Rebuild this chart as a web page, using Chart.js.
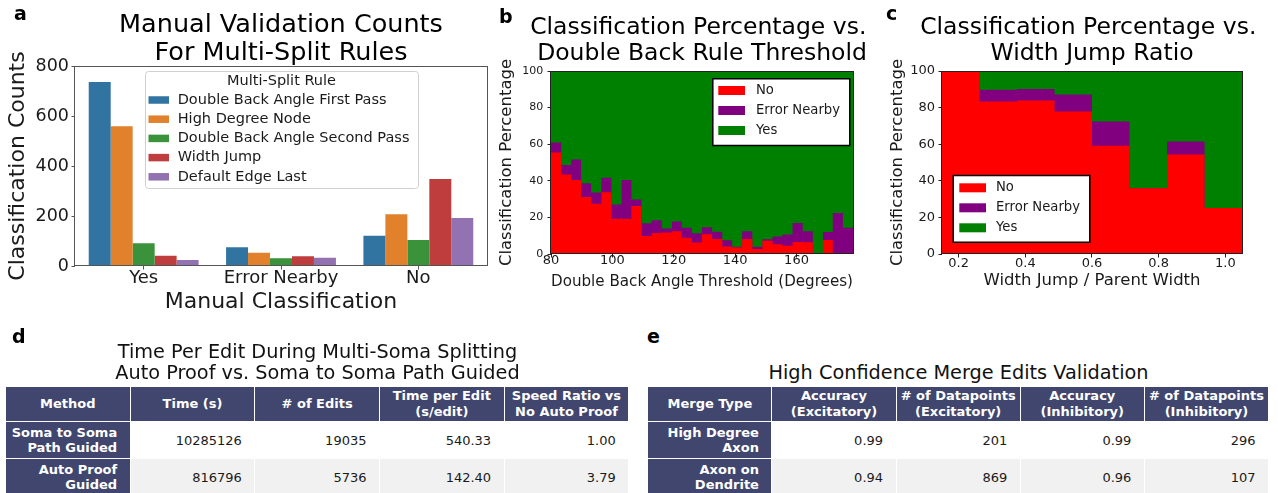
<!DOCTYPE html>
<html>
<head>
<meta charset="utf-8">
<title>Multi-split rule validation</title>
<script src="https://cdn.jsdelivr.net/npm/chart.js@4.4.1/dist/chart.umd.min.js"></script>
<style>
  html, body { margin: 0; padding: 0; background: #fff; }
  body { width: 1278px; height: 493px; position: relative; overflow: hidden; font-family: 'DejaVu Sans', sans-serif; }
  canvas { position: absolute; top: 0; }
  .panel-tag { position: absolute; font: bold 19px/19px 'DejaVu Sans', sans-serif; color: #000; }
  .table-title { position: absolute; font: 19.3px/20.7px 'DejaVu Sans', sans-serif; color: #111; text-align: center; white-space: pre; }
  .cell { position: absolute; box-sizing: border-box; display: flex; align-items: center; font-size: 13px; line-height: 15.6px; white-space: pre; border-right: 1px solid #fff; border-bottom: 1px solid #fff; }
  .cell.head { background: #40466e; color: #fff; font-weight: bold; justify-content: center; text-align: center; }
  .cell.rowhead { background: #40466e; color: #fff; font-weight: bold; justify-content: flex-end; text-align: right; padding-right: 12.5px; }
  .cell.num { color: #1a1a1a; justify-content: flex-end; text-align: right; padding-right: 12.5px; }
</style>
</head>
<body>
<canvas id="countsChart" width="500" height="320" style="left:0px;width:500px;height:320px"></canvas>
<canvas id="angleChart" width="375" height="300" style="left:495px;width:375px;height:300px"></canvas>
<canvas id="widthChart" width="408" height="300" style="left:870px;width:408px;height:300px"></canvas>

<div class="panel-tag" style="left:14px;top:4px">a</div>
<div class="panel-tag" style="left:499px;top:7px">b</div>
<div class="panel-tag" style="left:886px;top:4px">c</div>
<div class="panel-tag" style="left:12px;top:327px">d</div>
<div class="panel-tag" style="left:647px;top:327px">e</div>

<div id="editTitle" class="table-title" style="left:6px;width:623px;top:342.3px"></div>
<div id="mergeTitle" class="table-title" style="left:648px;width:621px;top:363px"></div>
<div id="editTable"></div>
<div id="mergeTable"></div>

<script>
// ---------- Panel a: manual validation counts per multi-split rule ----------
const classCategories = ['Yes', 'Error Nearby', 'No'];
const ruleNames = ['Double Back Angle First Pass', 'High Degree Node', 'Double Back Angle Second Pass', 'Width Jump', 'Default Edge Last'];
const doubleBackFirstPass  = [736, 75, 121];
const highDegreeNode       = [559, 53, 207];
const doubleBackSecondPass = [91, 31, 104];
const widthJump            = [41, 39, 348];
const defaultEdgeLast      = [24, 33, 192];
const countTicks = [0, 200, 400, 600, 800];
const countsTitle = ['Manual Validation Counts', 'For Multi-Split Rules'];
const countsLegendTitle = 'Multi-Split Rule';

// ---------- Panel b: classification share vs. double back threshold ----------
const thresholdEdges = [80.0, 83.3, 86.6, 89.8, 93.1, 96.4, 99.7, 103.0, 106.2, 109.5,
  112.8, 116.1, 119.4, 122.6, 125.9, 129.2, 132.5, 135.8, 139.0, 142.3,
  145.6, 148.9, 152.2, 155.4, 158.7, 162.0, 165.3, 168.6, 171.8, 175.1, 178.4];
const angleNoPct = [55.4, 43.4, 40.4, 31.1, 27.5, 33.7, 19.2, 19.2, 26.2, 9.8,
  11.5, 11.8, 12.5, 8.9, 6.3, 10.8, 8.2, 4.1, 3.5, 8.2,
  2.7, 7.3, 5.3, 4.5, 6.6, 6.4, 0, 7.6, 0, 0];
const angleErrorNearbyPct = [5.5, 5.3, 11.2, 7.6, 6.1, 7.9, 7.8, 21.3, 3.6, 7.0,
  7.0, 2.2, 5.3, 5.5, 5.0, 3.8, 4.0, 3.4, 0.5, 4.3,
  1.3, 0.7, 4.2, 6.2, 10.3, 6.1, 0, 4.4, 22.4, 14.4];
const angleYesPct = [39.1, 51.3, 48.4, 61.3, 66.4, 58.4, 73.0, 59.5, 70.2, 83.2,
  81.5, 86.0, 82.2, 85.6, 88.7, 85.4, 87.8, 92.5, 96.0, 87.5,
  96.0, 92.0, 90.5, 89.3, 83.1, 87.5, 100, 88.0, 77.6, 85.6];
const thresholdTicks = [80, 100, 120, 140, 160];
const angleTitle = ['Classification Percentage vs. ', 'Double Back Rule Threshold'];

// ---------- Panel c: classification share vs. width jump ratio ----------
const ratioEdges = [0.15, 0.2625, 0.375, 0.4875, 0.6, 0.7125, 0.825, 0.9375, 1.05];
const ratioNoPct = [100, 83.4, 83.9, 77.9, 59.1, 35.9, 54.4, 25.2];
const ratioErrorNearbyPct = [0, 6.4, 6.2, 9.3, 13.3, 0, 7.1, 0];
const ratioYesPct = [0, 10.2, 9.9, 12.8, 27.6, 64.1, 38.5, 74.8];
const ratioTicks = [0.2, 0.4, 0.6, 0.8, 1.0];
const ratioTickLabels = ['0.2', '0.4', '0.6', '0.8', '1.0'];
const ratioTitle = ['Classification Percentage vs. ', 'Width Jump Ratio'];

const pctTicks = [0, 20, 40, 60, 80, 100];
const outcomeNames = ['No', 'Error Nearby', 'Yes'];

// ---------- Panel d: time per edit table ----------
const editTitleLines = ['Time Per Edit During Multi-Soma Splitting', 'Auto Proof vs. Soma to Soma Path Guided'];
const editHeaders = ['Method', 'Time (s)', '# of Edits', 'Time per Edit\n(s/edit)', 'Speed Ratio vs\nNo Auto Proof'];
const editMethods = ['Soma to Soma\nPath Guided', 'Auto Proof\nGuided'];
const editTimes = [10285126, 816796];
const editCounts = [19035, 5736];
const editTimePerEdit = [540.33, 142.40];
const editSpeedRatio = [1.00, 3.79];

// ---------- Panel e: merge edit validation table ----------
const mergeTitleText = 'High Confidence Merge Edits Validation';
const mergeHeaders = ['Merge Type', 'Accuracy\n(Excitatory)', '# of Datapoints\n(Excitatory)', 'Accuracy\n(Inhibitory)', '# of Datapoints\n(Inhibitory)'];
const mergeTypes = ['High Degree\nAxon', 'Axon on\nDendrite'];
const excitatoryAccuracy = [0.99, 0.94];
const excitatoryCount = [201, 869];
const inhibitoryAccuracy = [0.99, 0.96];
const inhibitoryCount = [296, 107];

// ---------- shared drawing helpers ----------
const FONT = "'DejaVu Sans', sans-serif";
const INK = '#1a1a1a';
Chart.defaults.font.family = FONT;
Chart.defaults.color = INK;

// Multi-line title centred over the plotting area
function titlePlugin(lines, size, baselines) {
  return {
    id: 'axesTitle',
    afterDraw(chart) {
      const { ctx, chartArea } = chart;
      const cx = (chartArea.left + chartArea.right) / 2;
      ctx.save();
      ctx.font = size + 'px ' + FONT;
      ctx.fillStyle = '#000';
      ctx.textAlign = 'center';
      ctx.textBaseline = 'alphabetic';
      lines.forEach((t, i) => ctx.fillText(t, cx, baselines[i]));
      ctx.restore();
    }
  };
}

// Rectangle round the plotting area
function framePlugin(color) {
  return {
    id: 'axesFrame',
    afterDatasetsDraw(chart) {
      const { ctx, chartArea: a } = chart;
      ctx.save();
      ctx.strokeStyle = color;
      ctx.lineWidth = 1;
      ctx.strokeRect(Math.round(a.left) - 0.5, Math.round(a.top) + 0.5,
        Math.round(a.right) - Math.round(a.left) + 1, Math.round(a.bottom) - Math.round(a.top) - 1);
      ctx.restore();
    }
  };
}

// Boxed legend listing the datasets, placed inside the plot
function legendPlugin(o) {
  return {
    id: 'boxLegend',
    afterDatasetsDraw(chart) {
      const ctx = chart.ctx;
      const [x, y, w, h] = o.box;
      ctx.save();
      ctx.beginPath();
      if (o.radius) ctx.roundRect(x + 0.5, y + 0.5, w, h, o.radius);
      else ctx.rect(x + 0.5, y + 0.5, w, h);
      ctx.fillStyle = o.fill;
      ctx.fill();
      ctx.lineWidth = o.lineWidth;
      ctx.strokeStyle = o.stroke;
      ctx.stroke();
      ctx.font = o.fontSize + 'px ' + FONT;
      ctx.textBaseline = 'middle';
      if (o.title) {
        ctx.fillStyle = INK;
        ctx.textAlign = 'center';
        ctx.fillText(o.title, x + w / 2, o.titleY);
      }
      ctx.textAlign = 'left';
      chart.data.datasets.forEach((ds, i) => {
        const cy = o.firstRowY + i * o.rowGap;
        ctx.fillStyle = ds.backgroundColor;
        ctx.fillRect(o.patchX, cy - o.patchH / 2, o.patchW, o.patchH);
        ctx.fillStyle = INK;
        ctx.fillText(ds.label, o.textX, cy);
      });
      ctx.restore();
    }
  };
}

function fixedTicks(values) {
  return scale => { scale.ticks = values.map(v => ({ value: v })); };
}

// One point per bin edge; the closing edge repeats the last bin so the step spans it
function stepSeries(edges, values) {
  return edges.map((x, i) => ({ x, y: values[Math.min(i, values.length - 1)] }));
}

function tickGrid(color) {
  return { display: true, drawOnChartArea: false, drawTicks: true, tickLength: 3.5, color, lineWidth: 1 };
}

// ---------- Panel a ----------
const ruleCounts = [doubleBackFirstPass, highDegreeNode, doubleBackSecondPass, widthJump, defaultEdgeLast];
const ruleColors = ['#3274a1', '#e1812c', '#3a923a', '#c03d3e', '#9372b2'];

new Chart(document.getElementById('countsChart'), {
  type: 'bar',
  data: {
    labels: classCategories,
    datasets: ruleNames.map((name, i) => ({
      label: name,
      data: ruleCounts[i],
      backgroundColor: ruleColors[i],
      borderWidth: 0,
      barPercentage: 1,
      categoryPercentage: 0.8
    }))
  },
  options: {
    responsive: false,
    animation: false,
    events: [],
    layout: { padding: { top: 66, right: 13, bottom: 0, left: 0 } },
    plugins: { legend: { display: false }, tooltip: { enabled: false } },
    scales: {
      x: {
        grid: Object.assign(tickGrid('#555'), { offset: false }),
        border: { display: false },
        ticks: { font: { size: 18, lineHeight: 1 }, padding: -0.5, color: INK },
        title: { display: true, text: 'Manual Classification', font: { size: 22 }, color: INK, padding: { top: 0, bottom: 5 } },
        afterFit: s => { s.height = 54; }
      },
      y: {
        min: countTicks[0],
        max: countTicks[countTicks.length - 1],
        afterBuildTicks: fixedTicks(countTicks),
        grid: tickGrid('#555'),
        border: { display: false },
        ticks: { font: { size: 17.5 }, padding: 2.5, color: INK },
        title: { display: true, text: 'Classification Counts', font: { size: 22 }, color: INK, padding: { top: 5, bottom: 0 } },
        afterFit: s => { s.width = 75; }
      }
    }
  },
  plugins: [
    titlePlugin(countsTitle, 25.5, [31.7, 60]),
    framePlugin('#555'),
    legendPlugin({
      box: [145, 71, 273, 117], radius: 3, fill: 'rgba(255,255,255,0.85)', stroke: '#d0d0d0', lineWidth: 1,
      title: countsLegendTitle, titleY: 81, fontSize: 14.5,
      firstRowY: 100, rowGap: 19.2, patchX: 148.5, patchW: 20.5, patchH: 7.5, textX: 177.7
    })
  ]
});

// ---------- Panels b and c: stacked step areas ----------
const outcomeColors = ['#ff0000', '#800080', '#008000'];

function outcomeChart(canvasId, edges, series, opts) {
  return new Chart(document.getElementById(canvasId), {
    type: 'line',
    data: {
      datasets: outcomeNames.map((name, i) => ({
        label: name,
        data: stepSeries(edges, series[i]),
        backgroundColor: outcomeColors[i],
        borderColor: outcomeColors[i],
        borderWidth: 0,
        pointRadius: 0,
        stepped: true,
        fill: 'origin'
      }))
    },
    options: {
      responsive: false,
      animation: false,
      events: [],
      layout: { padding: { top: 71, right: opts.rightPad, bottom: 0, left: 0 } },
      plugins: { legend: { display: false }, tooltip: { enabled: false } },
      scales: {
        x: {
          type: 'linear',
          min: edges[0],
          max: edges[edges.length - 1],
          afterBuildTicks: fixedTicks(opts.xTicks),
          grid: tickGrid('#222'),
          border: { display: false },
          ticks: { font: { size: 13, lineHeight: 1 }, padding: opts.xTickPad, color: INK,
                   callback: opts.xLabel },
          title: { display: true, text: opts.xTitle, font: { size: 16.5 }, color: INK, padding: { top: 0, bottom: opts.xTitlePad } },
          afterFit: s => { s.height = 46; }
        },
        y: {
          stacked: true,
          min: 0,
          max: 100,
          afterBuildTicks: fixedTicks(pctTicks),
          grid: tickGrid('#222'),
          border: { display: false },
          ticks: { font: { size: opts.yTickSize }, padding: opts.yTickPad, color: INK },
          title: { display: true, text: 'Classification Percentage', font: { size: 16.5 }, color: INK, padding: { top: opts.yTitlePad, bottom: 0 } },
          afterFit: s => { s.width = opts.yWidth; }
        }
      }
    },
    plugins: [
      titlePlugin(opts.title, 23.5, [34, 60]),
      framePlugin('#222'),
      legendPlugin(Object.assign({
        fill: '#fff', stroke: '#000', lineWidth: 1.5, fontSize: 13.2,
        rowGap: 20, patchW: 26.7, patchH: 9
      }, opts.legend))
    ]
  });
}

outcomeChart('angleChart', thresholdEdges, [angleNoPct, angleErrorNearbyPct, angleYesPct], {
  rightPad: 17, yWidth: 56, yTickSize: 11, yTickPad: 4.2, yTitlePad: 2,
  xTicks: thresholdTicks, xLabel: v => String(v), xTickPad: -3, xTitlePad: 8.5,
  xTitle: 'Double Back Angle Threshold (Degrees)',
  title: angleTitle,
  legend: { box: [217.3, 78.3, 137, 66.7], firstRowY: 90.5, patchX: 223.3, textX: 261 }
});

outcomeChart('widthChart', ratioEdges, [ratioNoPct, ratioErrorNearbyPct, ratioYesPct], {
  rightPad: 36, yWidth: 72, yTickSize: 13, yTickPad: 3.5, yTitlePad: 18,
  xTicks: ratioTicks, xLabel: (v, i) => ratioTickLabels[i], xTickPad: 0, xTitlePad: 9,
  xTitle: 'Width Jump / Parent Width',
  title: ratioTitle,
  legend: { box: [82.7, 175, 136.6, 66.7], firstRowY: 187.8, patchX: 89.3, textX: 126 }
});

// ---------- Panels d and e: tables ----------
function buildTable(host, x0, width, headers, rowLabels, columns) {
  const cw = width / headers.length;
  const rowTops = [386.7, 422.3, 459.3];
  const rowHeights = [35.6, 37, 37];
  const rowFills = ['#ffffff', '#f1f1f2'];
  const addCell = (cls, text, col, row, fill) => {
    const d = document.createElement('div');
    d.className = 'cell ' + cls;
    d.textContent = text;
    d.style.left = (x0 + col * cw) + 'px';
    d.style.top = rowTops[row] + 'px';
    d.style.width = cw + 'px';
    d.style.height = rowHeights[row] + 'px';
    if (fill) d.style.background = fill;
    host.appendChild(d);
  };
  headers.forEach((h, c) => addCell('head', h, c, 0));
  rowLabels.forEach((label, r) => {
    addCell('rowhead', label, 0, r + 1);
    columns.forEach((col, c) => addCell('num', col[r], c + 1, r + 1, rowFills[r % 2]));
  });
}

document.getElementById('editTitle').textContent = editTitleLines.join('\n');
document.getElementById('mergeTitle').textContent = mergeTitleText;

buildTable(document.getElementById('editTable'), 6, 623.3, editHeaders, editMethods, [
  editTimes.map(String),
  editCounts.map(String),
  editTimePerEdit.map(v => v.toFixed(2)),
  editSpeedRatio.map(v => v.toFixed(2))
]);

buildTable(document.getElementById('mergeTable'), 648.3, 620.7, mergeHeaders, mergeTypes, [
  excitatoryAccuracy.map(v => v.toFixed(2)),
  excitatoryCount.map(String),
  inhibitoryAccuracy.map(v => v.toFixed(2)),
  inhibitoryCount.map(String)
]);
</script>
</body>
</html>
